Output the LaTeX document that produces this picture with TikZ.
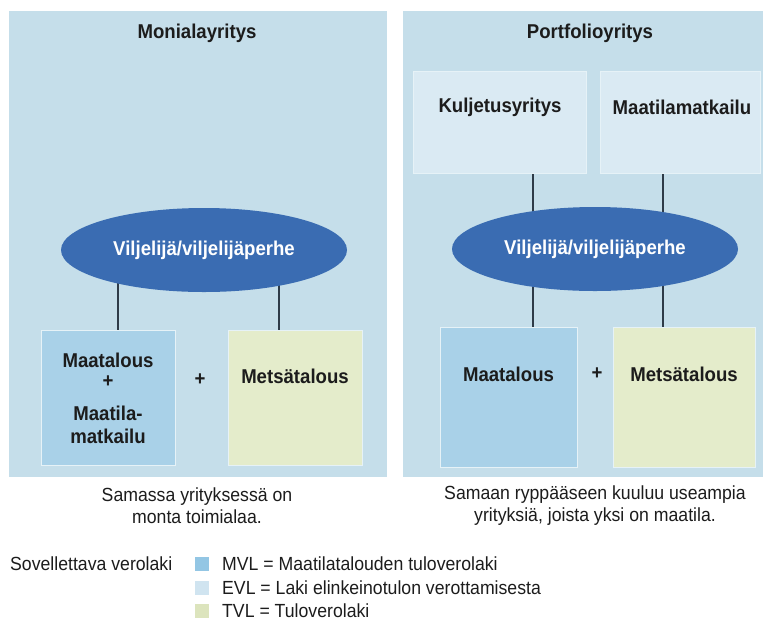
\documentclass[tikz,border=0pt]{standalone}
\usepackage{fontspec}
\setmainfont{Liberation Sans}[FakeStretch=0.93]
\usetikzlibrary{shapes.geometric,calc}
\pgfdeclarelayer{panel}
\pgfdeclarelayer{lines}
\pgfsetlayers{panel,lines,main}
\definecolor{panelc}{HTML}{C5DEEA}
\definecolor{mvlc}{HTML}{A9D1E8}
\definecolor{evlc}{HTML}{DAEAF3}
\definecolor{tvlc}{HTML}{E4ECCB}
\definecolor{ellc}{HTML}{3A6CB2}
\definecolor{edgec}{HTML}{E6F2F7}
\definecolor{linec}{HTML}{2E3B48}
\definecolor{txtc}{HTML}{1C1C1C}
\definecolor{legmvl}{HTML}{93C6E4}
\definecolor{legevl}{HTML}{D0E4F0}
\definecolor{legtvl}{HTML}{DCE4BD}
\begin{document}
\begin{tikzpicture}[x=1pt,y=-1pt,
  panelbox/.style={fill=panelc, draw=none, inner sep=0pt, outer sep=0pt},
  unit/.style={draw=edgec, line width=1pt, inner sep=0pt, outer sep=0pt},
  mvlbox/.style={unit, fill=mvlc},
  evlbox/.style={unit, fill=evlc},
  tvlbox/.style={unit, fill=tvlc},
  family/.style={ellipse, fill=ellc, draw=none, minimum width=286pt, minimum height=84pt, inner sep=0pt,
     text=white, font=\fontsize{20}{22}\selectfont\bfseries},
  bold/.style={text=txtc, font=\fontsize{20}{24}\selectfont\bfseries, inner sep=0pt, align=center},
  plain/.style={text=txtc, font=\fontsize{19}{22}\selectfont, inner sep=0pt, align=center},
  link/.style={draw=linec, line width=1.2pt},
  legsq/.style={inner sep=0pt, minimum width=14pt, minimum height=14pt, draw=none}
]
\useasboundingbox (0,0) rectangle (769,625);

% panels
\begin{pgfonlayer}{panel}
\node[panelbox, minimum width=378pt, minimum height=466pt] (Lpanel) at (198,244) {};
\node[panelbox, minimum width=360pt, minimum height=466pt] (Rpanel) at (583,244) {};
\end{pgfonlayer}

% titles
\node[bold] (Ltitle) at (197,33) {Monialayritys};
\node[bold] (Rtitle) at (590,33) {Portfolioyritys};

% left panel
\node[family] (Lfam) at (204,250) {Viljelijä/viljelijäperhe};
\node[mvlbox, minimum width=134pt, minimum height=135pt] (Lmvl) at (108,397.5) {};
\node[tvlbox, minimum width=134pt, minimum height=135pt] (Ltvl) at (295,397.5) {};
\node[bold] (LmvlA) at (108,360) {Maatalous};
\node[bold] (LmvlP) at (108,382) {+};
\node[bold] (LmvlB) at (108,413) {Maatila-};
\node[bold] (LmvlC) at (108,436) {matkailu};
\node[bold] (LtvlT) at (295,376) {Metsätalous};
\node[bold] (Lplus) at (200,380) {+};

\coordinate (la) at (118,250);
\coordinate (lb) at (279,250);
\begin{pgfonlayer}{lines}
\draw[link] (la) -- (la |- Lmvl.north);
\draw[link] (lb) -- (lb |- Ltvl.north);
\end{pgfonlayer}

% right panel
\node[evlbox, minimum width=173pt, minimum height=102pt] (Rk) at (499.5,122) {};
\node[evlbox, minimum width=160pt, minimum height=102pt] (Rm) at (680,122) {};
\node[bold] (RkT) at (500,107) {Kuljetusyritys};
\node[bold] (RmT) at (682,107) {Maatilamatkailu};
\node[family] (Rfam) at (595,249) {Viljelijä/viljelijäperhe};
\node[mvlbox, minimum width=137pt, minimum height=140pt] (Rmvl) at (508.5,397) {};
\node[tvlbox, minimum width=142pt, minimum height=140pt] (Rtvl) at (684,397) {};
\node[bold] (RmvlT) at (508.5,374) {Maatalous};
\node[bold] (RtvlT) at (684,374) {Metsätalous};
\node[bold] (Rplus) at (597,374) {+};

\coordinate (ra) at (533,249);
\coordinate (rb) at (663,249);
\begin{pgfonlayer}{lines}
\draw[link] (ra |- Rk.south) -- (ra |- Rmvl.north);
\draw[link] (rb |- Rm.south) -- (rb |- Rtvl.north);
\end{pgfonlayer}

% captions
\node[plain] (Lcap) at (197,506) {Samassa yrityksessä on\\monta toimialaa.};
\node[plain] (Rcap) at (595,506) {Samaan ryppääseen kuuluu useampia\\yrityksiä, joista yksi on maatila.};

% legend
\node[plain, anchor=west] (legT) at (10,564) {Sovellettava verolaki};
\node[legsq, fill=legmvl] (sq1) at (202,564) {};
\node[legsq, fill=legevl] (sq2) at (202,588) {};
\node[legsq, fill=legtvl] (sq3) at (202,611) {};
\node[plain, anchor=west] (leg1) at (222,564) {MVL = Maatilatalouden tuloverolaki};
\node[plain, anchor=west] (leg2) at (222,588) {EVL = Laki elinkeinotulon verottamisesta};
\node[plain, anchor=west] (leg3) at (222,611) {TVL = Tuloverolaki};
\end{tikzpicture}
\end{document}
